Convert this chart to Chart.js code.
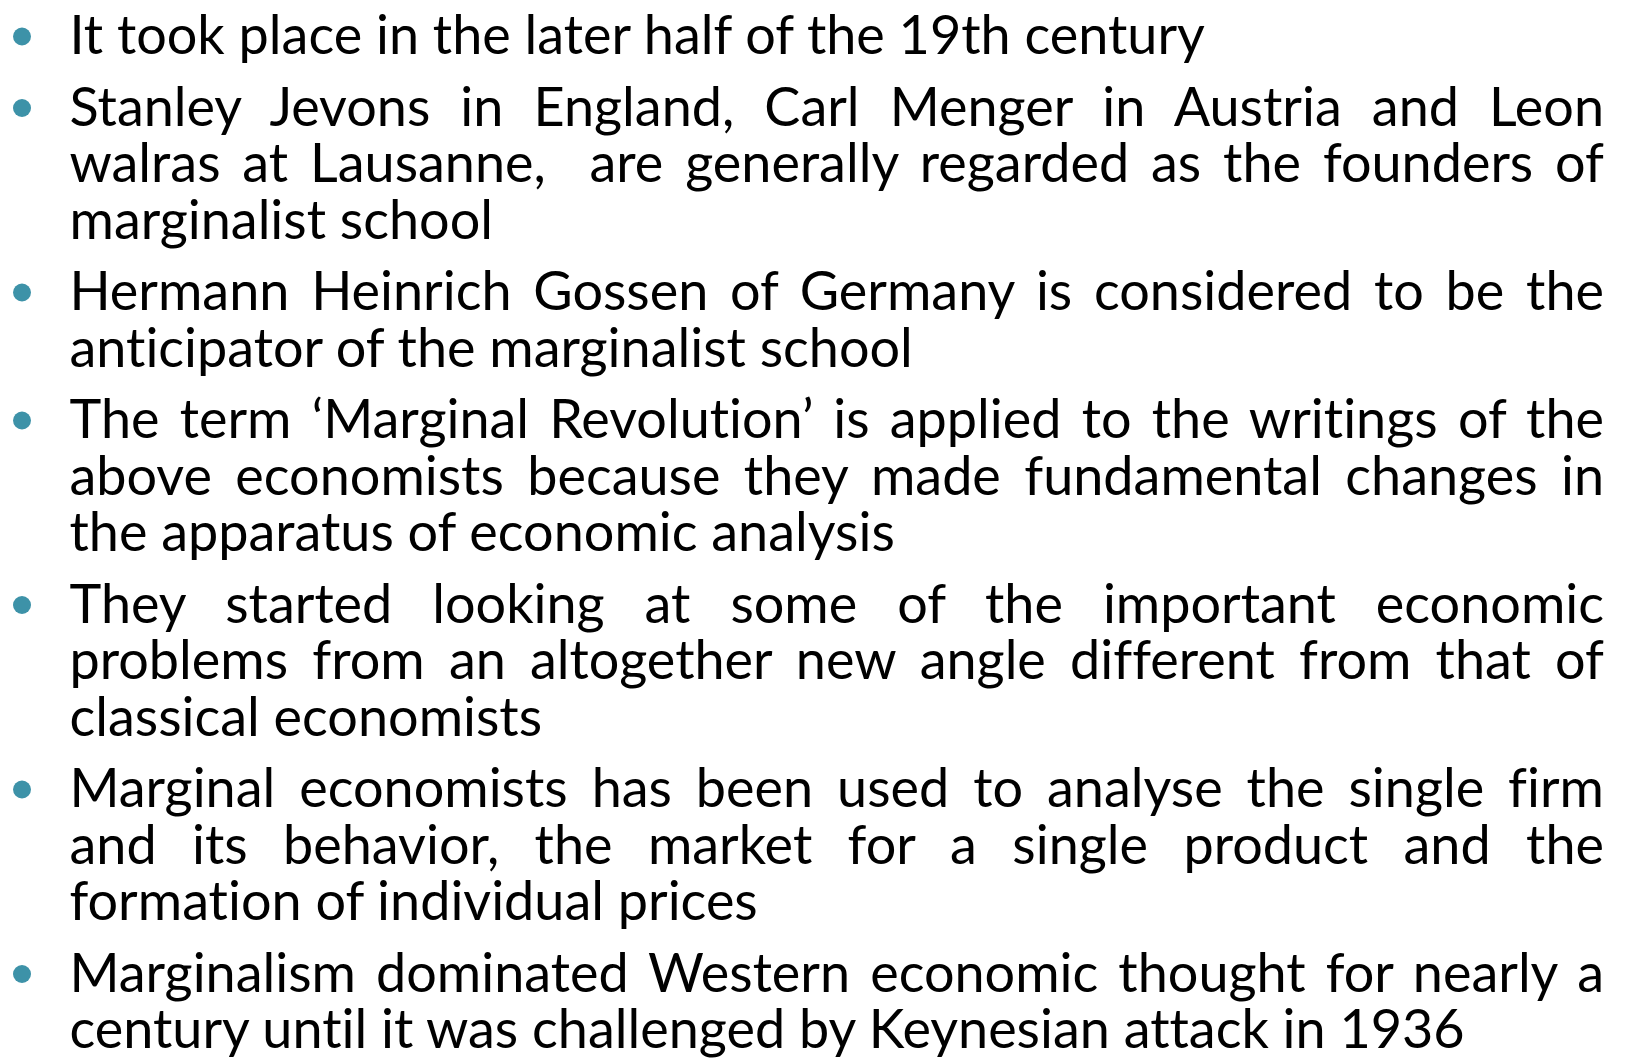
<!DOCTYPE html>
<html><head><meta charset="utf-8">
<script src="https://cdn.jsdelivr.net/npm/chart.js@4.4.1/dist/chart.umd.min.js"></script>
<style>
html,body{margin:0;padding:0;background:#fff;}
#stage{position:relative;width:1625px;height:1060px;overflow:hidden;background:#fff;}
#c{position:absolute;left:0;top:0;}
.ln,.probe{position:absolute;left:0;top:0;white-space:nowrap;color:#000;
  font-family:Lato,'Open Sans',sans-serif;font-weight:400;line-height:1.2;
  font-variant-ligatures:none;font-feature-settings:"liga" 0,"clig" 0;font-kerning:normal;}
.probe{visibility:hidden;}
.mk{display:inline-block;width:0;height:0;}
</style></head>
<body><div id="stage"><canvas id="c" width="1625" height="1060"></canvas></div>
<script>
// ---- content (each bullet = its lines as they break in the slide) ----
const bullet1 = ["It took place in the later half of the 19th century"];
const bullet2 = ["Stanley Jevons in England, Carl Menger in Austria and Leon",
                 "walras at Lausanne,\u00a0 are generally regarded as the founders of",
                 "marginalist school"];
const bullet3 = ["Hermann Heinrich Gossen of Germany is considered to be the",
                 "anticipator of the marginalist school"];
const bullet4 = ["The term \u2018Marginal Revolution\u2019 is applied to the writings of the",
                 "above economists because they made fundamental changes in",
                 "the apparatus of economic analysis"];
const bullet5 = ["They started looking at some of the important economic",
                 "problems from an altogether new angle different from that of",
                 "classical economists"];
const bullet6 = ["Marginal economists has been used to analyse the single firm",
                 "and its behavior, the market for a single product and the",
                 "formation of individual prices"];
const bullet7 = ["Marginalism dominated Western economic thought for nearly a",
                 "century until it was challenged by Keynesian attack in 1936"];
const bullets = [bullet1, bullet2, bullet3, bullet4, bullet5, bullet6, bullet7];

// ---- layout / style ----
const LEFT = 69.5, RIGHT = 1604;
const FIRST_BASE = 54, LINE_STEP = 56.5, PARA_GAP = 15;
const BULLET_X = 22, BULLET_DY = 17.5, BULLET_R = 9;
const BULLET_COLOR = "#3d92a8";
const lastLineEnds = [1223, 493, 920, 890, 540, 761, 1457];

function run(){
  const stage = document.getElementById('stage');
  const probe = document.createElement('span');
  probe.className = 'probe';
  stage.appendChild(probe);
  function measure(t, size){
    probe.style.fontSize = size + "px";
    probe.textContent = t;
    return probe.getBoundingClientRect().width;
  }
  const ratios = bullets.map((b,i)=> (lastLineEnds[i]-LEFT) / measure(b[b.length-1],100) * 100);
  ratios.sort((a,b)=>a-b);
  let fs = (ratios[3] + ratios[2] + ratios[4]) / 3;
  const W = RIGHT - LEFT;
  bullets.forEach(b=>b.slice(0,-1).forEach(t=>{
    fs = Math.min(fs, W / measure(t,100) * 100 * 0.995);
  }));

  const bulletPts = [];
  let gi = 0;
  bullets.forEach((b,p)=>{
    b.forEach((t,li)=>{
      const base = FIRST_BASE + gi*LINE_STEP + p*PARA_GAP;
      const d = document.createElement('div');
      d.className = 'ln';
      d.style.fontSize = fs + "px";
      const mk = document.createElement('span'); mk.className = 'mk';
      d.appendChild(mk);
      d.appendChild(document.createTextNode(t));
      if (li < b.length-1) {
        const nat = measure(t, fs);
        const spaces = (t.match(/[ \u00a0]/g)||[]).length;
        d.style.wordSpacing = ((W - nat)/spaces) + "px";
      }
      stage.appendChild(d);
      const mb = mk.getBoundingClientRect().top - stage.getBoundingClientRect().top;
      d.style.left = LEFT + "px";
      d.style.top = (base - mb) + "px";
      if (li === 0) bulletPts.push({x: BULLET_X, y: base - BULLET_DY});
      gi++;
    });
  });
  probe.remove();

  new Chart(document.getElementById('c'), {
    type: 'scatter',
    data: { datasets: [{ data: bulletPts, backgroundColor: BULLET_COLOR, borderWidth: 0,
                         pointRadius: BULLET_R, pointHoverRadius: BULLET_R }] },
    options: {
      responsive: false, animation: false, events: [],
      layout: { padding: 0, autoPadding: false },
      plugins: { legend: { display: false }, tooltip: { enabled: false } },
      scales: {
        x: { type: 'linear', min: 0, max: 1625, display: false },
        y: { type: 'linear', min: 0, max: 1060, reverse: true, display: false }
      }
    }
  });
}
if (document.fonts && document.fonts.ready) document.fonts.ready.then(run); else run();
</script>
</body></html>
